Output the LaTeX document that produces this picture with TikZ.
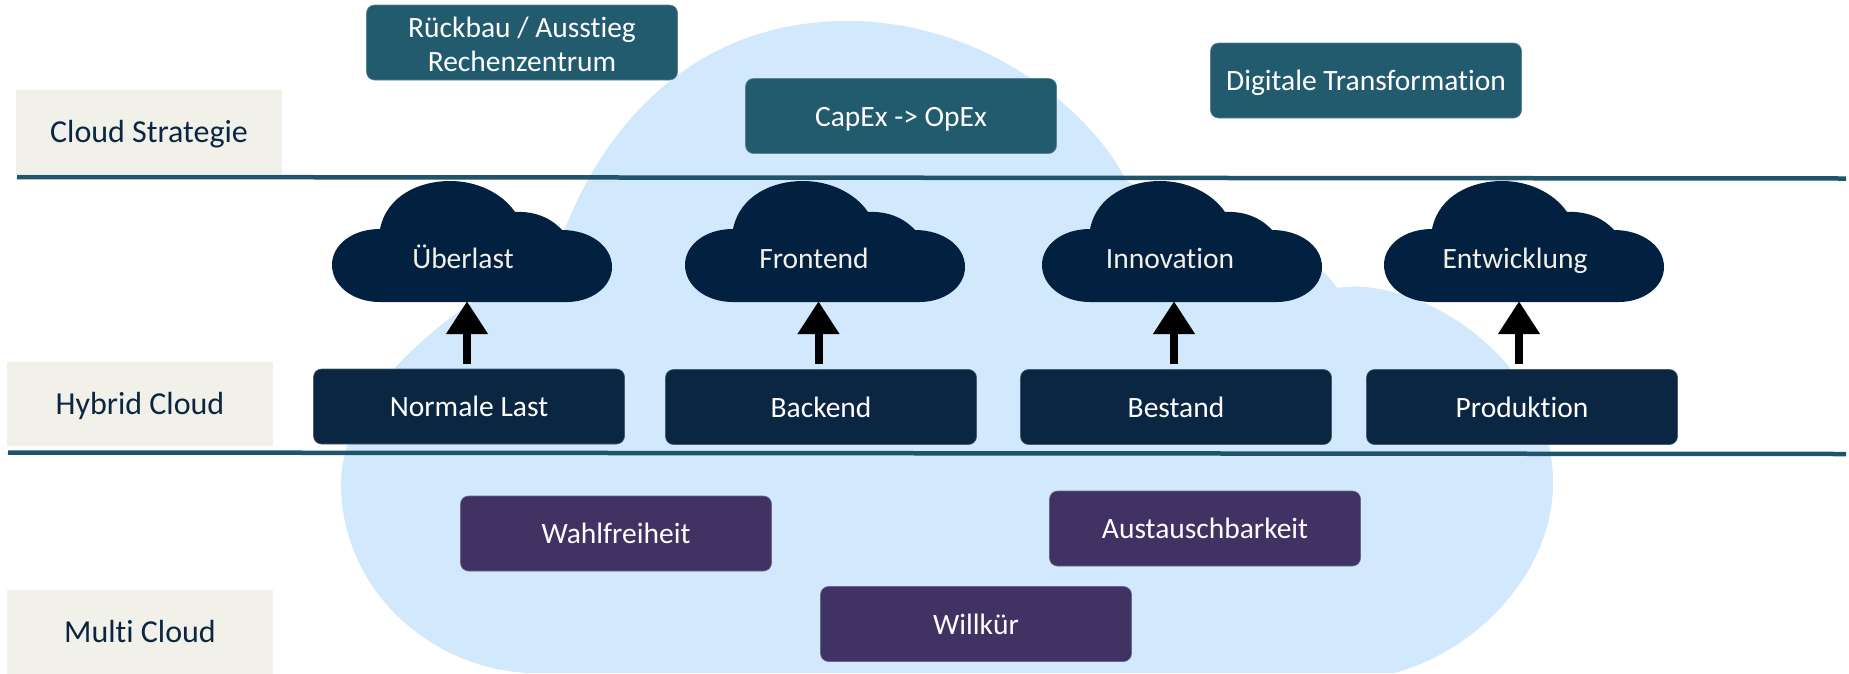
\documentclass[tikz,border=0pt]{standalone}
\usepackage{fontspec}
\setmainfont[Ligatures=NoCommon]{Carlito}
\usetikzlibrary{arrows.meta}
\definecolor{bigcloud}{HTML}{D2E8FC}
\definecolor{smallcloud}{HTML}{02203F}
\definecolor{darkbox}{HTML}{0B2642}
\definecolor{tealbox}{HTML}{225A6E}
\definecolor{purplebox}{HTML}{403263}
\definecolor{labelbg}{HTML}{F2F1E9}
\definecolor{ruleline}{HTML}{1F546B}
\definecolor{ltxt}{HTML}{0B2642}
\tikzset{
  oneline/.style={text height=20pt,text depth=0pt},
  base/.style={rounded corners=8pt,minimum width=311pt,minimum height=75pt,align=center,inner sep=0pt,text=white,
    font=\fontsize{29.5}{34}\selectfont},
  dark/.style={base,oneline,fill=darkbox,draw=darkbox!75!white,line width=0.6pt},
  teal/.style={base,fill=tealbox,draw=tealbox!75!white,line width=0.6pt},
  purp/.style={base,oneline,fill=purplebox,draw=purplebox!75!white,line width=0.6pt},
  lab/.style={oneline,fill=labelbg,minimum width=266pt,minimum height=84pt,inner sep=0pt,text=ltxt,font=\fontsize{32}{38}\selectfont},
  hrule/.style={draw=ruleline,line width=4.5pt},
  upar/.style={line width=8pt,-{Triangle[width=40pt,length=33pt]},black},
  cloudtext/.style={oneline,minimum width=200pt,minimum height=87pt,inner sep=0pt,text=labelbg,font=\fontsize{29.5}{36}\selectfont},
  smallc/.pic={
    \fill[smallcloud] (48,48) .. controls (55,14) and (88,0) .. (118,0)
      .. controls (145,0) and (170,12) .. (183,31)
      .. controls (203,30) and (219,37) .. (230,49)
      .. controls (258,49) and (280,65) .. (280,86)
      .. controls (280,107) and (258,121) .. (235,121)
      -- (48,121) .. controls (20,121) and (0,104) .. (0,84)
      .. controls (0,64) and (20,48) .. (48,48) -- cycle;
  }
}
\begin{document}
\begin{tikzpicture}[x=1pt,y=-1pt]
\useasboundingbox (0,0) rectangle (1849,673);
% large background cloud
\fill[bigcloud] (528,673) .. controls (430,668) and (341,590) .. (341,483)
  .. controls (341,420) and (400,330) .. (556,255)
  .. controls (580,175) and (660,20) .. (850,21)
  .. controls (985,22) and (1090,110) .. (1126,180)
  .. controls (1150,200) and (1300,230) .. (1337,288)
  .. controls (1420,275) and (1553,360) .. (1553,483)
  .. controls (1553,570) and (1480,650) .. (1394,673) -- cycle;
% separator lines
\coordinate (r1a) at (17,177);
\coordinate (r1b) at (1846,178.5);
\coordinate (r2a) at (8,452.5);
\coordinate (r2b) at (1846,454);
\draw[hrule] (r1a) -- (r1b);
\draw[hrule] (r2a) -- (r2b);
% labels
\node[lab] (l1) at (149,132) {Cloud Strategie};
\node[lab] (l2) at (140,404) {Hybrid Cloud};
\node[lab] (l3) at (140,632) {Multi Cloud};
% strategy
\node[teal] (s1) at (522,42.5) {\raisebox{-11pt}[0pt][0pt]{\begin{tabular}{@{}c@{}}Rückbau / Ausstieg\\Rechenzentrum\end{tabular}}};
\node[teal,oneline] (s2) at (901,116) {CapEx -> OpEx};
\node[teal,oneline] (s3) at (1366,80.5) {Digitale Transformation};
% hybrid clouds
\pic at (332,181) {smallc};
\pic at (685,181) {smallc};
\pic at (1042,181) {smallc};
\pic at (1384,181) {smallc};
\node[cloudtext] (c1) at (463,258.5) {Überlast};
\node[cloudtext] (c2) at (814,258.5) {Frontend};
\node[cloudtext] (c3) at (1170,258.5) {Innovation};
\node[cloudtext] (c4) at (1515,258.5) {Entwicklung};
% hybrid boxes
\node[dark] (b1) at (469,406.5) {Normale Last};
\node[dark] (b2) at (821,407) {Backend};
\node[dark] (b3) at (1176,407) {Bestand};
\node[dark] (b4) at (1522,407) {Produktion};
% arrows
\draw[upar] ([xshift=-2pt,yshift=5pt]b1.north) -- ([xshift=4pt,yshift=1pt]c1.south);
\draw[upar] ([xshift=-2.5pt,yshift=5pt]b2.north) -- ([xshift=4.5pt,yshift=1pt]c2.south);
\draw[upar] ([xshift=-2pt,yshift=5pt]b3.north) -- ([xshift=4pt,yshift=1pt]c3.south);
\draw[upar] ([xshift=-3pt,yshift=5pt]b4.north) -- ([xshift=4pt,yshift=1pt]c4.south);
% multi cloud
\node[purp] (m1) at (616,533.5) {Wahlfreiheit};
\node[purp] (m2) at (1205,528.5) {Austauschbarkeit};
\node[purp] (m3) at (976,624) {Willkür};
\end{tikzpicture}
\end{document}
